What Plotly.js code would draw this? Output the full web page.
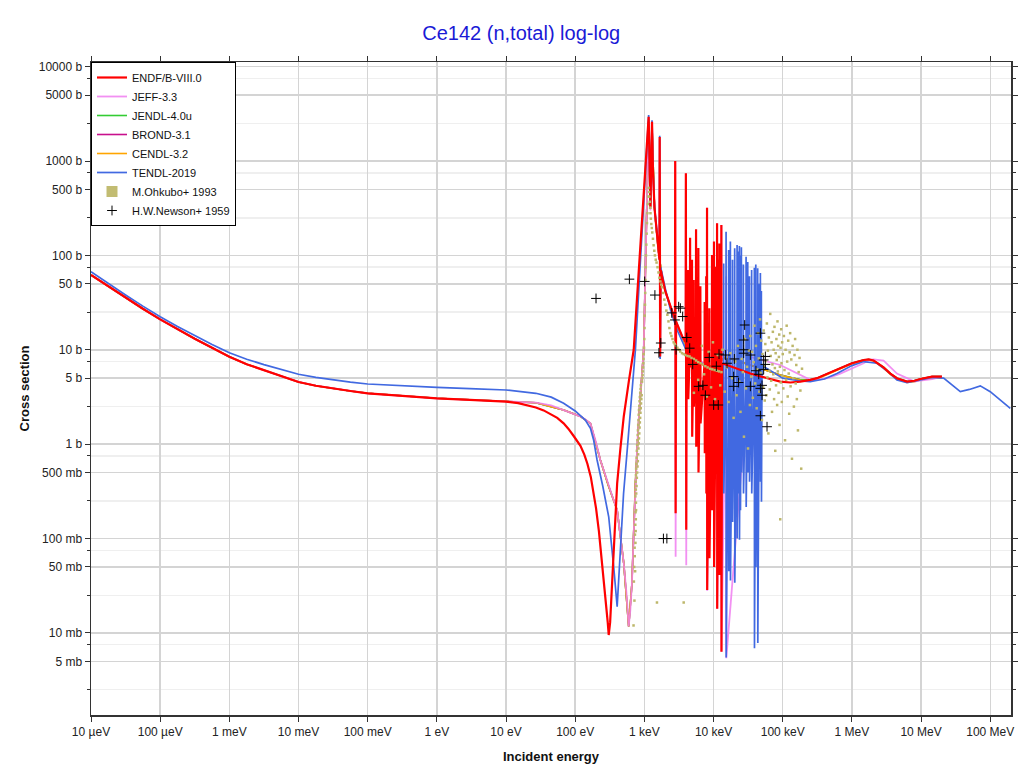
<!DOCTYPE html>
<html>
<head>
<meta charset="utf-8">
<script src="https://cdn.plot.ly/plotly-3.0.1.min.js"></script>
<style>html,body{margin:0;padding:0;background:#fff;}#chart{width:1020px;height:773px;}</style>
</head>
<body>
<div id="chart"></div>
<script>
// ===== DATA (energies in eV, cross sections in barns) =====
const seriesNames = ["ENDF/B-VIII.0","JEFF-3.3","JENDL-4.0u","BROND-3.1","CENDL-3.2","TENDL-2019","M.Ohkubo+ 1993","H.W.Newson+ 1959"];

const endfE = [1e-5,1.78e-5,3.16e-5,5.62e-5,1e-4,1.78e-4,3.16e-4,5.62e-4,1e-3,1.78e-3,3.16e-3,5.62e-3,1e-2,1.78e-2,3.16e-2,5.62e-2,0.1,0.3,1,3,10,15,20,27,35,45,55,68,80,95,110,119,135,150,168,185,200,220,245,275,295,305,320,341,370,404,450,503,600,701,
 1153,1222,1290,1330,1400,1500,1600,1650,1665,1690,1720,2000,2400,2770,2790,2830,2870,3500,3950,3980,4030,4080,4250,4285,4310,4550,4580,4610,
 4850,4880,4910,5120,5155,5190,5550,5585,5620,6000,6030,6060,6400,6445,6490,7400,7435,7470,7800,7830,7870,8000,8050,8090,8650,8690,8730,9450,9505,9550,
 10100,10140,10190,10800,10860,10900,11200,11240,11290,11700,11740,11790,12100,12140,12190,12930,12970,13020,13300,20000,34000,60000,92000,129000,180000,250000,313000,450000,680000,1.0e6,1.475e6,1.75e6,2.06e6,
 2.87e6,3.6e6,4.48e6,6.26e6,8e6,9.73e6,1.44e7,2e7];
const endfXS = [62,47,35.5,27.2,21,16.5,13.1,10.5,8.45,7.03,6.05,5.27,4.56,4.16,3.88,3.66,3.46,3.25,3.06,2.95,2.82,2.72,2.6,2.45,2.28,2.08,1.9,1.66,1.45,1.22,1.05,0.96,0.78,0.62,0.45,0.30,0.21,0.12,0.055,0.025,0.013,0.0095,0.013,0.033,0.12,0.385,0.9,1.96,4.8,10,
 2945,328,2600,800,320,180,110,90,1800,8.5,70,42,28,21,1000,0.185,20,14,12,740,0.124,11.5,11,70,3.0,10.5,154,6.5,
 9.6,90,1.2,9,55,2.5,8.4,189,0.94,8,120,0.5,7.6,47,1.66,7.1,32,0.8,6.9,60,0.3,6.8,320,0.0285,6.6,27.5,0.062,6.5,101,0.2,
 6.5,140,0.05,6.6,76,0.81,6.8,219,0.018,6.9,90,0.3,7,134,0.041,7.1,210,0.0063,7.2,6.5,5.6,5.0,4.6,4.5,4.6,4.8,5.0,5.6,6.4,7.2,7.8,7.9,7.7,
 6.5,5.6,5.0,4.6,4.7,4.9,5.2,5.2];

const jeffE = [1e-5,1.78e-5,3.16e-5,5.62e-5,1e-4,1.78e-4,3.16e-4,5.62e-4,1e-3,1.78e-3,3.16e-3,5.62e-3,1e-2,1.78e-2,3.16e-2,5.62e-2,0.1,0.3,1,3,10,20,27,45,68,95,120,140,166,200,231,265,300,350,404,450,503,550,593,625,660,700,742,790,835,900,977,
 1153,1222,1290,1330,1400,1500,1600,1650,1665,1690,1720,2000,2400,2770,2790,2830,2870,3500,3950,3980,4030,4080,5500,
 8000,8050,8090,9000,11200,11240,11290,12930,12970,13020,15100,15200,15300,34000,92000,180000,250000,313000,450000,680000,
 1.0e6,1.475e6,1.75e6,2.06e6,2.87e6,3.6e6,4.48e6,6.26e6,8e6,9.73e6,1.44e7,2e7];
const jeffXS = [62,47,35.5,27.2,21,16.5,13.1,10.5,8.45,7.03,6.05,5.27,4.56,4.16,3.88,3.66,3.46,3.25,3.06,2.95,2.83,2.79,2.75,2.58,2.3,2.12,1.96,1.83,1.66,1.05,0.68,0.5,0.37,0.27,0.2,0.11,0.055,0.027,0.0117,0.017,0.033,0.11,0.385,1.0,1.96,4.3,10,
 2700,300,2400,800,320,180,110,90,1700,8.5,70,42,28,21,1000,0.064,20,14,12,740,0.052,11.5,8.4,
 6.8,320,0.028,6.5,6.8,219,0.018,7.1,210,0.0063,8.45,60,0.0054,8.4,6.9,5.4,4.8,4.8,5.0,5.6,6.4,
 7.2,7.8,7.9,7.7,6.5,5.6,5.0,4.6,4.7,4.9,5.2,5.2];

const groupE = [1e-5,1.78e-5,3.16e-5,5.62e-5,1e-4,1.78e-4,3.16e-4,5.62e-4,1e-3,1.78e-3,3.16e-3,5.62e-3,1e-2,1.78e-2,3.16e-2,5.62e-2,0.1,0.3,1,3,10,27,68,120,166,231,300,404,503,593,660,742,835,977,1153,1222,1290,1400,1500,1600,1800,2000,2400,3000,
 4000,5000,7000,10000,15000,34000,92000,180000,250000,313000,450000,680000,1e6,1.475e6,1.75e6,2.06e6,2.87e6,3.6e6,4.48e6,6.26e6,8e6,9.73e6,1.44e7,2e7];
const jendlXS = [62,47,35.5,27.2,21,16.5,13.1,10.5,8.45,7.03,6.05,5.27,4.56,4.16,3.88,3.66,3.46,3.25,3.06,2.95,2.83,2.75,2.3,1.96,1.66,0.68,0.37,0.2,0.055,0.0117,0.033,0.385,1.96,10,2600,310,2300,320,180,110,60,42,28,18,
 11,8.5,7,6.6,8.4,6.9,5.4,4.8,4.8,5.0,5.6,6.4,7.2,7.8,7.9,7.7,6.5,5.6,5.0,4.6,4.7,4.9,5.2,5.2];
const brondXS = [62,47,35.5,27.2,21,16.5,13.1,10.5,8.45,7.03,6.05,5.27,4.56,4.16,3.88,3.66,3.46,3.25,3.06,2.95,2.83,2.75,2.3,1.96,1.66,0.68,0.37,0.2,0.055,0.0117,0.033,0.385,1.96,10,2600,310,2300,320,180,110,60,42,28,18,
 11,8.5,7,6.6,8.4,6.9,5.4,4.8,4.8,5.0,5.6,6.4,7.2,7.8,7.9,7.7,6.5,5.6,5.0,4.6,4.7,4.9,5.2,5.2];
const cendlXS = [62,47,35.5,27.2,21,16.5,13.1,10.5,8.45,7.03,6.05,5.27,4.56,4.16,3.88,3.66,3.46,3.25,3.06,2.95,2.83,2.75,2.3,1.96,1.66,0.68,0.37,0.2,0.055,0.0117,0.033,0.385,1.96,10,2600,310,2300,320,180,110,60,42,28,18,
 11,8.5,7,6.6,8.4,6.9,5.4,4.75,4.7,4.9,5.5,6.3,7.1,7.7,7.8,7.6,6.4,5.5,4.9,4.5,4.6,4.8,5.0,5.0];

const tendlE = [1e-5,1.78e-5,3.16e-5,5.62e-5,1e-4,1.78e-4,3.16e-4,5.62e-4,1e-3,1.78e-3,3.16e-3,5.62e-3,1e-2,1.78e-2,3.16e-2,5.62e-2,0.1,0.3,1,3,10,27,45,68,100,140,166,185,207,250,305,360,404,450,500,565,650,742,
 1153,1222,1290,1330,1400,1500,1600,1650,1665,1690,1720,2000,2400,3000,4000,6000,9000,13000,
 13960,14000,14060,15120,15170,15230,16480,16530,16600,17450,17500,17570,18750,18800,18870,20140,20200,20280,21820,21880,21970,
 22640,22700,22790,23550,23620,23710,24330,24400,24500,25180,25250,25350,26930,27000,27100,29440,29520,29640,31120,31200,31330,
 32900,33000,33130,35400,35500,35650,38800,38900,39050,40700,40800,40960,43330,43450,43620,
 45880,46000,46180,47400,47500,47680,48970,49100,49300,50200,100000,180000,250000,400000,609000,1e6,1.475e6,2.31e6,3.2e6,4.48e6,6.26e6,9.73e6,
 1.44e7,2.12e7,2.8e7,3.69e7,5e7,7.18e7,1e8,1.4e8,1.95e8];
const tendlXS = [67,50.2,38.1,29.0,22.4,17.7,14.1,11.4,9.3,7.94,6.97,6.14,5.5,5.1,4.79,4.55,4.34,4.15,4.0,3.87,3.75,3.46,3.15,2.71,2.25,1.8,1.47,1.1,0.68,0.36,0.17,0.05,0.019,0.076,0.3,0.87,2.9,10,
 3070,340,2700,820,330,185,115,95,1850,8,75,45,26,16,10,7.5,6.5,7,
 7,82,0.3,7,178,0.0055,7,114,0.045,7,140,0.036,7,90,0.15,7,119,0.034,7,129,0.1,
 7,110,0.3,7,126,0.097,7,100,0.2,7,122,0.5,7,80,0.3,7,97,0.216,7,85,0.5,
 7,60,0.4,7,70,0.3,7,74,0.0069,7,80,0.05,7,73,0.0078,
 7,50,0.6,7,65,0.4,7,42,0.245,6.8,5.0,4.67,4.6,4.9,5.6,6.8,7.5,7.2,6.0,4.8,4.5,4.8,
 5.1,5.0,4.2,3.6,3.8,4.15,3.6,2.9,2.4];

const ohkuboE = [697,705,712,718,722,726,731,735,738,742,745,748,752,755,758,
 740,752,748,762,755,770,760,778,766,786,772,795,779,804,786,812,793,820,800,828,807,836,814,844,821,852,828,860,836,868,844,877,852,886,861,895,870,904,880,914,890,925,935,942,950,958,965,972,980,988,996,
 1004,1012,1020,1028,1036,1045,1055,1066,1078,1090,1105,1120,1138,
 1150,1165,1180,1195,1210,1225,1240,1260,1280,1300,1330,1360,1390,1420,1460,1500,1550,1600,1650,1700,1750,1800,1870,1940,2010,2080,2150,2230,2300,2380,2460,2550,2650,2750,2850,3000,3150,3300,3500,3700,3900,4200,4500,4800,5200,5600,6000,6500,7000,7600,8200,8900,9600,10400,11200,12000,13000,
 1520,3700,5200,6000,6800,7300,8000,8500,9200,9800,10500,11500,12500,13500,14500,15500,16500,17500,18500,19500,20500,21500,22500,23500,24500,25500,26500,27500,28500,29500,30500,31500,32500,33500,
 34000,35000,36000,37000,38000,39000,40000,41000,42000,43000,44000,45000,46000,47000,48000,49000,50000,51000,52000,53000,54000,55000,56000,57000,58000,59000,60000,61000,62000,63000,64000,65000,66000,67000,68000,69000,70000,71000,72000,73000,74000,75000,76000,77000,78000,79000,80000,81000,82000,83000,84000,85000,86000,87000,88000,89000,90000,91000,92000,93000,94000,95000,96000,97000,98000,99000,100000,
 102000,104000,106000,108000,110000,112000,114000,116000,118000,120000,122000,124000,126000,128000,130000,133000,136000,139000,142000,145000,148000,151000,154000,157000,160000,163000,166000,170000,175000,180000,185000,190000];
const ohkuboXS = [0.012,0.035,0.05,0.022,0.08,0.065,0.11,0.045,0.14,0.09,0.19,0.12,0.16,0.24,0.2,
 0.28,0.33,0.4,0.3,0.47,0.36,0.55,0.44,0.62,0.5,0.72,0.58,0.85,0.66,0.98,0.78,1.1,0.9,1.25,1.02,1.4,1.15,1.6,1.3,1.8,1.5,2.05,1.7,2.3,1.9,2.55,2.15,2.85,2.4,3.15,2.7,3.5,3.0,3.85,3.3,4.2,4.6,5.0,5.4,5.9,6.5,7.2,8.0,9.0,10.5,13,
 17,23,30,40,55,75,100,130,170,220,280,350,420,
 520,470,420,370,320,280,245,215,195,175,150,128,112,100,90,84,75,66,58,53,49,46,40,34,30,26,23.5,20,17,15,14,13,12,11.5,11,10.5,10,9.6,9.2,9,8.8,8.6,8.5,8.2,8.0,7.7,7.4,7.2,7.0,6.7,6.5,6.3,6.2,6.1,6.0,5.9,5.8,
 0.021,0.021,3.5,4.8,11,5.5,3.2,9.5,4.0,12,3.0,8.8,4.2,10,3.6,6.5,2.8,9.2,5.0,1.9,7.5,3.3,11,4.6,2.2,8.0,5.8,1.2,13,3.9,6.6,0.9,9.8,2.6,
 14,5.2,9.5,3.1,7.4,18,4.4,11,2.4,6.2,15,8.1,3.6,21,5.7,12.5,1.8,9.0,4.0,16,6.8,2.9,11.5,7.6,3.3,19,5.1,9.8,1.3,13.5,6.0,3.8,24,8.6,4.7,12,2.2,7.0,15.5,5.5,10,3.0,17.5,6.4,0.85,9.2,4.2,13,7.8,2.6,20,5.9,11,3.5,8.4,14.5,1.6,6.6,0.16,10.5,4.5,16.5,7.2,2.8,12,5.3,9.0,
 3.9,14,6.1,1.1,10,4.8,18,7.5,3.2,12.5,5.6,2.1,9.4,15,4.1,7.9,0.7,11,5.0,2.5,8.8,13,4.4,6.9,3.0,10,1.4,5.8,8.2,3.7,0.55,6.3];

const newsonE = [200,607,1010,1419,1726,1622,1884,2114,2489,2768,3131,3311,3575,4100,2871,4520,6095,7015,7620,8670,10030,10970,11690,14820,15670,19530,27240,27240,28180,34050,47520,47520,47520,50230,50230,52980,56090,56090,59300,5000,12000,20000,23000,41000,45000,53000,19530,34050,27240];
const newsonXS = [35,56,53,38,11.8,9.3,0.1,0.1,24.6,20.7,28.6,27.6,22.5,13.5,10,10.4,4.1,4.2,3.3,8.3,2.6,6.7,2.6,8.8,7.2,5.2,12.7,9.2,18.3,8.8,15,3.9,2.0,4.2,3.3,7.8,8.5,7.0,1.53,7.0,9.0,8.0,4.5,6.0,5.5,6.2,4.1,4.1,10];

// axis labels
const yTickVals = [0.005,0.01,0.05,0.1,0.5,1,5,10,50,100,500,1000,5000,10000];
const yTickText = ['5 mb','10 mb','50 mb','100 mb','500 mb','1 b','5 b','10 b','50 b','100 b','500 b','1000 b','5000 b','10000 b'];
const yMinorVals = [0.0025,0.0075,0.025,0.075,0.25,0.75,2.5,7.5,25,75,250,750,2500,7500];
const xTickVals = [1e-5,1e-4,1e-3,1e-2,1e-1,1,10,100,1e3,1e4,1e5,1e6,1e7,1e8];
const xTickText = ['10 µeV','100 µeV','1 meV','10 meV','100 meV','1 eV','10 eV','100 eV','1 keV','10 keV','100 keV','1 MeV','10 MeV','100 MeV'];

// ===== CHART =====
const FONT = 'Liberation Sans, Arial, sans-serif';
function lineTrace(name, x, y, color, width, rank, opacity) {
  return {type:'scatter', mode:'lines', name:name, x:x, y:y, legendrank:rank,
          opacity: opacity===undefined?1:opacity,
          line:{color:color, width:width}, hoverinfo:'skip'};
}
const traces = [
  lineTrace(seriesNames[3], groupE, brondXS, '#c8108c', 1.6, 4),
  lineTrace(seriesNames[2], groupE, jendlXS, '#33cc33', 1.6, 3),
  lineTrace(seriesNames[4], groupE, cendlXS, '#ffa500', 1.6, 5),
  lineTrace(seriesNames[1], jeffE, jeffXS, '#f07cf0', 1.8, 2, 0.85),
  lineTrace(seriesNames[5], tendlE, tendlXS, '#4169e1', 1.7, 6),
  lineTrace(seriesNames[0], endfE, endfXS, '#ff0000', 2.2, 1),
  {type:'scatter', mode:'markers', name:seriesNames[6], x:ohkuboE, y:ohkuboXS, legendgroup:'ohk', showlegend:false,
   marker:{symbol:'square', size:2.5, color:'#bdb76b'}, hoverinfo:'skip'},
  {type:'scatter', mode:'markers', name:seriesNames[6], x:[null], y:[null], legendgroup:'ohk', legendrank:7,
   marker:{symbol:'square', size:11, color:'#c2bc72'}, hoverinfo:'skip'},
  {type:'scatter', mode:'markers', name:seriesNames[7], x:newsonE, y:newsonXS, legendrank:8,
   marker:{symbol:'cross-thin', size:7, color:'#000', line:{color:'#000', width:1}}, hoverinfo:'skip'}
];

const layout = {
  width:1020, height:773,
  margin:{l:91, r:9, t:62, b:58},
  paper_bgcolor:'#fff', plot_bgcolor:'#fff',
  font:{family:FONT, size:12, color:'#222'},
  title:{text:'Ce142 (n,total) log-log', font:{family:FONT, size:20, color:'#1a1ad6'},
         x:0.511, xanchor:'center', y:0.957, yanchor:'middle'},
  showlegend:true,
  legend:{x:0, y:1, xanchor:'left', yanchor:'top', bgcolor:'#fff', bordercolor:'#000', borderwidth:1,
          font:{family:FONT, size:11, color:'#111'}, itemsizing:'trace', traceorder:'normal', itemwidth:30},
  xaxis:{type:'log', range:[-5, 8.30], tickmode:'array', tickvals:xTickVals, ticktext:xTickText,
         ticks:'outside', ticklen:5, tickcolor:'#333', showline:true, linecolor:'#333', linewidth:1.5, mirror:'ticks',
         showgrid:true, gridcolor:'#d4d4d4', gridwidth:1.5, zeroline:false,
         tickfont:{family:FONT, size:12, color:'#222'},
         title:{text:'<b>Incident energy</b>', font:{family:FONT, size:13, color:'#111'}, standoff:14}},
  yaxis:{type:'log', range:[Math.log10(0.00135), Math.log10(11200)], tickmode:'array', tickvals:yTickVals, ticktext:yTickText,
         ticks:'outside', ticklen:5, tickcolor:'#333', showline:true, linecolor:'#333', linewidth:1.5, mirror:'ticks',
         showgrid:true, gridcolor:'#d4d4d4', gridwidth:1.5, zeroline:false,
         tickfont:{family:FONT, size:12, color:'#222'},
         minor:{tickmode:'array', tickvals:yMinorVals, ticks:'outside', ticklen:3, tickcolor:'#333', showgrid:true, gridcolor:'#efefef', gridwidth:1.5},
         title:{text:'<b>Cross section</b>', font:{family:FONT, size:13, color:'#111'}, standoff:6}}
};

Plotly.newPlot('chart', traces, layout, {displayModeBar:false, staticPlot:true});
</script>
</body>
</html>
